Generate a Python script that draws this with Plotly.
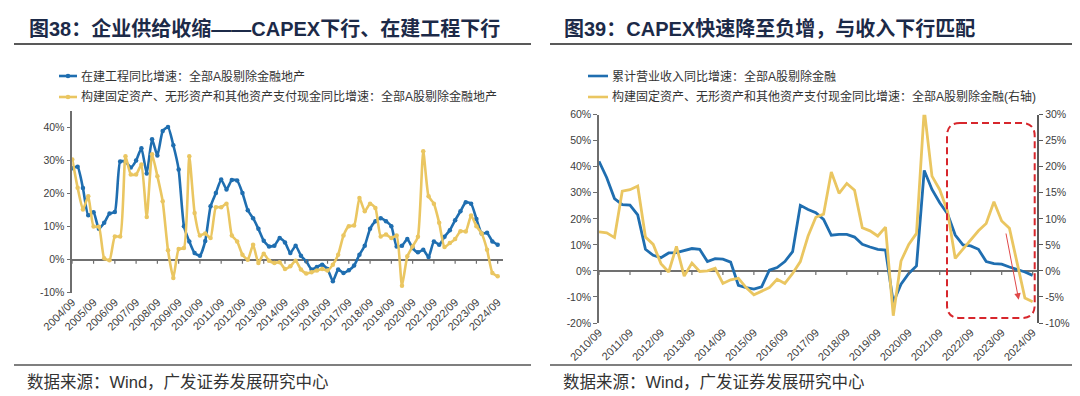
import plotly.graph_objects as go

# ---------------- data ----------------
def quarter_labels(y0, m0, y1, m1):
    out = []
    for y in range(y0, y1 + 1):
        for m in (3, 6, 9, 12):
            if (y == y0 and m < m0) or (y == y1 and m > m1):
                continue
            out.append(f"{y}/{m:02d}")
    return out

left_quarters = quarter_labels(2004, 9, 2024, 9)
right_quarters = quarter_labels(2010, 9, 2024, 9)

left_tick_labels = [f"{y}/09" for y in range(2004, 2025)]
right_tick_labels = [f"{y}/09" for y in range(2010, 2025)]

# 在建工程同比增速 (%)
left_cip = [27.6, 28.0, 21.6, 13.4, 14.3, 9.3, 11.1, 13.9, 14.4, 29.6,
            29.6, 27.8, 29.9, 33.6, 26.0, 36.3, 31.4, 38.8, 40.0, 34.5,
            27.2, 10.1, 5.5, 2.0, 1.2, 5.6, 16.1, 20.1, 24.2, 21.2,
            24.0, 23.9, 20.1, 14.9, 12.5, 9.3, 5.7, 4.0, 4.2, 6.5,
            5.2, 2.0, 4.2, 1.2, -0.5, -3.0, -2.2, -1.5, -2.8, -6.5,
            -3.0, -4.0, -3.2, -1.8, 1.5, 4.2, 9.3, 11.6, 12.5, 11.6,
            10.1, 4.0, 4.2, 6.2, 3.5, 2.2, 3.0, 0.8, 5.5, 4.5,
            6.9, 8.9, 11.9, 14.6, 17.3, 16.9, 12.3, 7.9, 8.1, 5.5, 4.5]
# 构建固定资产…支付现金同比增速 (%)
left_capex = [30.2, 21.7, 15.1, 19.1, 10.0, 9.9, 0.4, -0.2, 7.0, 7.0,
              31.2, 25.7, 25.7, 28.7, 12.9, 31.8, 25.2, 17.6, 2.8, -5.5,
              3.2, 3.5, 31.2, 14.1, 7.3, 7.9, 6.5, 15.8, 15.8, 16.9,
              7.3, 5.5, 1.5, 0.0, 4.5, -1.0, 1.8, -0.3, -1.0, -0.8,
              -2.8, -2.0, -0.3, -3.0, -4.2, -3.8, -3.3, -2.8, -3.3, -1.5,
              1.5, 7.3, 10.1, 10.3, 18.6, 14.6, 16.9, 15.6, 7.0, 7.6,
              6.5, 7.3, -7.9, 1.0, 4.0, 6.9, 32.7, 19.1, 16.9, 11.1,
              3.8, 5.0, 6.2, 8.6, 8.5, 13.3, 10.1, 7.9, 3.0, -4.0, -5.0]

# 累计营业收入同比增速 (%), left axis
right_revenue = [42.1, 35.8, 27.8, 25.5, 25.3, 21.5, 8.3, 6.0, 5.1, 6.9,
                 7.0, 7.9, 8.6, 8.3, 3.6, 4.7, 4.5, 3.4, -5.5, -6.4,
                 -7.0, -6.1, 0.3, 1.3, 3.6, 7.4, 25.2, 23.6, 22.4, 19.8,
                 13.7, 14.0, 14.0, 13.0, 10.2, 9.2, 8.3, 8.0, -12.1, -5.1,
                 -1.0, 1.9, 38.6, 31.3, 26.2, 22.0, 13.8, 10.0, 9.6, 8.3,
                 3.6, 2.8, 2.6, 1.5, 0.6, -0.4, -1.7]
# 构建固定资产…支付现金同比增速 (%), right axis
right_capex = [7.5, 7.3, 6.4, 15.3, 15.6, 16.3, 6.5, 5.1, 1.4, -0.2,
               4.7, -1.0, 1.5, -0.1, 0.0, 0.5, -2.4, -1.7, -1.4, -3.2,
               -4.6, -3.9, -3.2, -1.6, -2.4, -0.5, 1.8, 6.7, 10.3, 10.9,
               19.0, 14.9, 16.8, 15.5, 8.3, 7.7, 6.7, 8.4, -8.6, 1.9,
               5.1, 7.2, 31.0, 18.2, 15.6, 11.5, 2.4, 4.2, 5.9, 7.7,
               9.1, 13.3, 9.6, 8.2, 1.5, -5.2, -5.9]

left_y_ticks = [-10, 0, 10, 20, 30, 40]
left_y_text = ["-10%", "0%", "10%", "20%", "30%", "40%"]
right_y_ticks = [-20, -10, 0, 10, 20, 30, 40, 50, 60]
right_y_text = ["-20%", "-10%", "0%", "10%", "20%", "30%", "40%", "50%", "60%"]
right_y2_ticks = [-10, -5, 0, 5, 10, 15, 20, 25, 30]
right_y2_text = ["-10%", "-5%", "0%", "5%", "10%", "15%", "20%", "25%", "30%"]

# ---------------- styling ----------------
W, H = 1080, 396
BLUE = "#1F6EB0"
YELLOW = "#EAC661"
AXIS = "#6E6E6E"
ZERO = "#707070"
TXT = "#404040"
TITLE = "#1C2A48"
FONT = "Liberation Sans, Arial, Noto Sans CJK SC"

def px(x):
    return x / W

def py(y):
    return 1 - y / H

L_range_y = [-10, 45]
L_dom_x = [px(64.3), px(495)]
L_dom_y = [py(284.8), py(102.5)]
R_range_y = [-20, 60]
R_range_y2 = [-10, 30]
R_dom_x = [px(591), px(1029.3)]
R_dom_y = [py(315), py(106.7)]

L_range_x = [0, 81]
R_range_x = [0, 56.6]

fig = go.Figure()

fig.add_trace(go.Scatter(
    x=left_quarters, y=left_cip, xaxis="x", yaxis="y", mode="lines+markers",
    line=dict(color=BLUE, width=2.6, shape="spline", smoothing=0.5),
    marker=dict(color=BLUE, size=4.5), cliponaxis=False,
    name="在建工程同比增速：全部A股剔除金融地产"))
fig.add_trace(go.Scatter(
    x=left_quarters, y=left_capex, xaxis="x", yaxis="y", mode="lines+markers",
    line=dict(color=YELLOW, width=2.6, shape="spline", smoothing=0.5),
    marker=dict(color=YELLOW, size=4.5), cliponaxis=False,
    name="构建固定资产、无形资产和其他资产支付现金同比增速：全部A股剔除金融地产"))

fig.add_trace(go.Scatter(
    x=right_quarters, y=right_revenue, xaxis="x2", yaxis="y2", mode="lines",
    line=dict(color=BLUE, width=2.8),
    name="累计营业收入同比增速：全部A股剔除金融"))
fig.add_trace(go.Scatter(
    x=right_quarters, y=right_capex, xaxis="x2", yaxis="y3", mode="lines",
    line=dict(color=YELLOW, width=2.8),
    name="构建固定资产、无形资产和其他资产支付现金同比增速：全部A股剔除金融(右轴)"))

tickfont = dict(family=FONT, size=10.5, color=TXT)
xtickfont = dict(family=FONT, size=11, color=TXT)

fig.update_layout(
    width=W, height=H, margin=dict(l=0, r=0, t=0, b=0, autoexpand=False),
    paper_bgcolor="white", plot_bgcolor="rgba(0,0,0,0)", showlegend=False,
    font=dict(family=FONT, color=TXT),
    xaxis=dict(domain=L_dom_x, anchor="y", type="category", range=L_range_x,
               tickmode="array", tickvals=left_tick_labels, ticktext=left_tick_labels,
               tickangle=-45, tickfont=xtickfont, ticks="", showline=False,
               showgrid=False, zeroline=False, automargin=False),
    yaxis=dict(domain=L_dom_y, anchor="x", range=L_range_y, tickmode="array",
               tickvals=left_y_ticks, ticktext=left_y_text, tickfont=tickfont,
               showline=True, linecolor=AXIS, linewidth=1.5, ticks="outside",
               ticklen=4, tickcolor=AXIS, tickwidth=1.2, showgrid=False,
               zeroline=True, zerolinecolor=ZERO, zerolinewidth=1.5,
               automargin=False),
    xaxis2=dict(domain=R_dom_x, anchor="y2", type="category", range=R_range_x,
                tickmode="array", tickvals=right_tick_labels, ticktext=right_tick_labels,
                tickangle=-45, tickfont=xtickfont, ticks="", showline=False,
                showgrid=False, zeroline=False, automargin=False),
    yaxis2=dict(domain=R_dom_y, anchor="x2", range=R_range_y, tickmode="array",
                tickvals=right_y_ticks, ticktext=right_y_text, tickfont=tickfont,
                showline=True, linecolor=AXIS, linewidth=1.5, ticks="outside",
                ticklen=4, tickcolor=AXIS, tickwidth=1.2, showgrid=False,
                zeroline=True, zerolinecolor=ZERO, zerolinewidth=1.5,
                automargin=False),
    yaxis3=dict(overlaying="y2", anchor="x2", side="right", range=R_range_y2,
                tickmode="array", tickvals=right_y2_ticks, ticktext=right_y2_text,
                tickfont=tickfont, showline=True, linecolor="#595959", linewidth=1.5,
                ticks="outside", ticklen=4, tickcolor="#595959", tickwidth=1.2,
                showgrid=False, zeroline=False, automargin=False),
)

shapes = []
annotations = []

# small tick marks hanging below the 0% lines at each year
for lab in left_tick_labels:
    shapes.append(dict(type="line", xref="x", yref="y", ysizemode="pixel", yanchor=0,
                       x0=lab, x1=lab, y0=0, y1=-4,
                       line=dict(color=AXIS, width=1.2)))
for lab in right_tick_labels:
    shapes.append(dict(type="line", xref="x2", yref="y2", ysizemode="pixel", yanchor=0,
                       x0=lab, x1=lab, y0=0, y1=-4,
                       line=dict(color=AXIS, width=1.2)))

# title rules and bottom rules
for x0, x1 in ((6, 523), (542, 1078)):
    shapes.append(dict(type="line", xref="paper", yref="paper", x0=px(x0), x1=px(x1),
                       y0=py(36), y1=py(36), line=dict(color="#222222", width=1.6)))
    shapes.append(dict(type="line", xref="paper", yref="paper", x0=px(x0), x1=px(x1),
                       y0=py(357), y1=py(357), line=dict(color="#555555", width=1.6)))

# titles
annotations.append(dict(text="<b>图38：企业供给收缩——CAPEX下行、在建工程下行</b>",
                        x=px(19), y=py(21), xref="paper", yref="paper",
                        xanchor="left", yanchor="middle", showarrow=False,
                        font=dict(family=FONT, size=20, color=TITLE)))
annotations.append(dict(text="<b>图39：CAPEX快速降至负增，与收入下行匹配</b>",
                        x=px(554), y=py(21), xref="paper", yref="paper",
                        xanchor="left", yanchor="middle", showarrow=False,
                        font=dict(family=FONT, size=20, color=TITLE)))

# sources
for xs in (17, 553):
    annotations.append(dict(text="数据来源：Wind，广发证券发展研究中心",
                            x=px(xs), y=py(374), xref="paper", yref="paper",
                            xanchor="left", yanchor="middle", showarrow=False,
                            font=dict(family=FONT, size=16.5, color="#333333")))

# custom legends
legend_items = [
    (51, 69, 68, BLUE, True, fig.data[0].name),
    (51, 69, 89, YELLOW, True, fig.data[1].name),
    (580, 600, 68, BLUE, False, fig.data[2].name),
    (580, 600, 89, YELLOW, False, fig.data[3].name),
]
for x0, x1, yy, col, dot, label in legend_items:
    shapes.append(dict(type="line", xref="paper", yref="paper", x0=px(x0), x1=px(x1),
                       y0=py(yy), y1=py(yy), line=dict(color=col, width=2.6)))
    if dot:
        cx = (x0 + x1) / 2
        shapes.append(dict(type="circle", xref="paper", yref="paper",
                           x0=px(cx - 2.3), x1=px(cx + 2.3), y0=py(yy + 2.3), y1=py(yy - 2.3),
                           fillcolor=col, line=dict(color=col, width=0)))
    annotations.append(dict(text=label, x=px(x1 + 1.5), y=py(yy), xref="paper", yref="paper",
                            xanchor="left", yanchor="middle", showarrow=False,
                            font=dict(family=FONT, size=12, color="#333333")))

# red dashed rounded rectangle
Lx, Rx, Ty, By = px(939), px(1026.7), py(115), py(310)
rx, ry = 13 / W, 13 / H
path = (f"M {Lx+rx},{Ty} L {Rx-rx},{Ty} Q {Rx},{Ty} {Rx},{Ty-ry} "
        f"L {Rx},{By+ry} Q {Rx},{By} {Rx-rx},{By} "
        f"L {Lx+rx},{By} Q {Lx},{By} {Lx},{By+ry} "
        f"L {Lx},{Ty-ry} Q {Lx},{Ty} {Lx+rx},{Ty} Z")
shapes.append(dict(type="path", xref="paper", yref="paper", path=path,
                   line=dict(color="#D7262C", width=2, dash="7px,4px")))

# red arrow
annotations.append(dict(text="", x=px(1010.7), y=py(291.7), xref="paper", yref="paper",
                        ax=-13, ay=-67.7, showarrow=True, arrowhead=2, arrowsize=1.3,
                        arrowwidth=1, arrowcolor="#E04848"))

fig.update_layout(shapes=shapes, annotations=annotations)

fig.write_html("out.html")
